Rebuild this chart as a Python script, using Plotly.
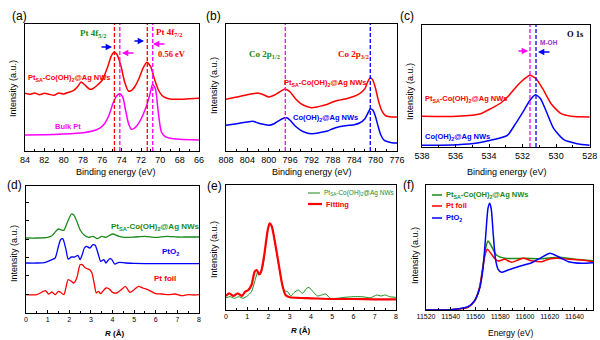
import plotly.graph_objects as go

W, H = 600, 340
RED, MAG, BLUE, GREEN, PURPLE = "#ff0000", "#ff00ff", "#0000ff", "#1a8a1a", "#9933cc"
SANS = "Arial, 'Liberation Sans', sans-serif"
SERIF = "'Times New Roman', 'Liberation Serif', serif"

SA = "Pt<sub>SA</sub>-Co(OH)<sub>2</sub>@Ag NWs"
COOH = "Co(OH)<sub>2</sub>@Ag NWs"

# ---- (a) Pt 4f XPS ----
a_e_sa = [84, 83.5, 83, 82.5, 82, 81.5, 81, 80.5, 80, 79.5, 79, 78.5, 78.2, 77.8, 77.3, 77, 76.5, 76,
          75.5, 75.1, 74.8, 74.5, 74.1, 73.7, 73.3, 73, 72.6, 72.2, 71.8, 71.4, 71.0, 70.6, 70.2, 69.8,
          69.4, 69, 68, 67, 66]
a_i_sa = [57.7, 56.7, 58, 56.3, 57.7, 56.7, 55.7, 58, 57, 58.7, 60.3, 65, 69, 66, 61.7, 62.3, 66, 71,
          82.7, 94.3, 98.7, 96.7, 86, 69.3, 60, 60.3, 65, 72.7, 82.7, 88.7, 84.3, 71.7, 61, 55.3,
          53, 52, 51.7, 52.3, 52.7]
a_e_bulk = [84, 82, 80, 78, 77, 76.3, 75.8, 75.3, 74.9, 74.5, 74.2, 73.9, 73.6, 73.3, 73.0, 72.6, 72.2,
            71.8, 71.4, 71.1, 70.8, 70.5, 70.2, 69.9, 69.5, 69, 68, 66]
a_i_bulk = [16, 16.3, 17, 18.3, 20, 22.7, 27, 36, 47.7, 55.3, 57.3, 54.3, 41, 27.7, 21.7, 23.3, 28.3,
            36, 46, 56, 66.7, 61.7, 37.7, 19.3, 14.3, 12.7, 11.7, 11]
a_lines_sa = [74.75, 71.35]
a_lines_bulk = [74.19, 70.79]

# ---- (b) Co 2p XPS ----
b_e = [808, 806, 804, 803, 802, 801, 800, 799, 798, 797, 796.5, 796, 795, 794, 793, 792, 791, 790, 789,
       788, 787, 786, 785, 784, 783, 782, 781.5, 781, 780.5, 780, 779.5, 779, 778.5, 778, 777, 776]
b_i_sa = [51.7, 54, 56.3, 57.2, 58, 56.3, 54, 55.7, 59, 62, 61, 59, 52.3, 47.3, 44.7, 43.3, 44, 45.3,
          46.7, 49, 50.7, 51.7, 53, 54.7, 57.3, 62.3, 69, 73.3, 70.7, 62.3, 50.7, 42.3, 37.3, 35, 34, 34]
b_i_co = [25.7, 27.3, 29, 29.7, 28, 26.7, 25.7, 27.3, 30.7, 33.3, 33, 30.7, 24.7, 20.7, 18.3, 17.3,
          17.7, 19, 20, 22.3, 24, 25, 25.7, 26.3, 28, 32.3, 37.3, 42.3, 40.7, 34, 24, 15.7, 11.3, 9.7,
          8.3, 8]
b_lines = [796.9, 781.0]

# ---- (c) O 1s XPS ----
c_e_sa = [538, 535.9, 534.5, 533.9, 533.3, 532.8, 532.3, 531.8, 531.56, 531.2, 530.8, 530.3, 529.7,
          529.1, 528]
c_i_sa = [30.7, 30.7, 33.3, 38.3, 44, 51.7, 61.7, 69.3, 71.7, 68.3, 58.3, 43.3, 33.3, 30.7, 30]
c_e_co = [538, 535.88, 534.69, 533.9, 532.91, 532.42, 531.92, 531.56, 531.23, 530.93, 530.53, 530.14,
          529.54, 528.75, 528]
c_i_co = [1.7, 2.3, 4, 6.7, 11.7, 23.3, 36.7, 46.7, 52.3, 48.3, 33.3, 18.3, 7.3, 3.3, 1.7]
c_lines = [531.56, 531.2]

# ---- (d) FT-EXAFS ----
d_r_sa = [0, 0.5, 1.0, 1.2, 1.4, 1.5, 1.6, 1.75, 1.9, 2.1, 2.2, 2.35, 2.5, 2.7, 2.9, 3.1, 3.3, 3.5, 3.7,
          4.0, 4.3, 4.6, 5, 5.5, 6, 6.5, 7, 7.5, 8]
d_i_sa = [75, 75, 75.7, 77.3, 82.3, 84, 83.3, 82.7, 90, 99, 98.3, 91.7, 83.3, 77.7, 75.7, 76.7, 74.3,
          76.7, 75.7, 79, 76.7, 75.7, 76, 76.7, 75.7, 76.7, 76, 76, 76]
d_r_pto2 = [0, 0.5, 0.9, 1.2, 1.35, 1.5, 1.6, 1.7, 1.85, 1.95, 2.1, 2.25, 2.4, 2.5, 2.6, 2.7, 2.8, 2.95,
            3.1, 3.2, 3.35, 3.45, 3.6, 3.7, 3.85, 3.95, 4.1, 4.3, 4.6, 5, 6, 7, 8]
d_i_pto2 = [50, 50, 50.7, 53.3, 55, 66.7, 73.3, 74.3, 63.3, 54, 56, 56, 57.7, 53.3, 58.3, 65, 66.7, 65,
            68.3, 67.7, 58.3, 51.7, 53.3, 50, 54, 54, 49, 50.7, 50, 49.7, 49.3, 49.3, 49.3]
d_r_foil = [0, 0.5, 0.8, 0.9, 1.05, 1.2, 1.35, 1.5, 1.6, 1.75, 1.95, 2.1, 2.2, 2.35, 2.5, 2.6, 2.75,
            2.95, 3.05, 3.15, 3.25, 3.35, 3.45, 3.55, 3.7, 3.85, 4.0, 4.2, 4.4, 4.6, 4.8, 5.0, 5.2,
            5.4, 5.7, 6.0, 6.3, 6.6, 6.9, 7.2, 7.5, 7.8, 8]
d_i_foil = [18.3, 18.3, 21.7, 22.3, 19, 21, 18.3, 21.7, 20.7, 18.3, 33.3, 31.7, 30, 35, 48.3, 48.3, 45,
            43.3, 40, 30, 20, 21.7, 19.3, 21.7, 25, 24, 20.7, 20, 23.3, 26.7, 20.7, 23.3, 26.7, 25,
            22.7, 19.3, 19, 18.3, 19, 17.3, 18.3, 18, 18.3]

# ---- (e) EXAFS fit ----
e_r_exp = [0, 0.2, 0.4, 0.6, 0.8, 1.0, 1.2, 1.35, 1.5, 1.6, 1.75, 1.9, 2.05, 2.2, 2.4, 2.6, 2.75, 2.9,
           3.05, 3.2, 3.4, 3.6, 3.8, 3.9, 4.1, 4.3, 4.5, 4.7, 4.9, 5.2, 5.6, 6.0, 6.4, 6.8, 7.1, 7.3,
           7.5, 7.7, 8]
e_i_exp = [12.3, 13.3, 11.7, 13.3, 11.7, 14, 18.3, 28.3, 38.3, 35, 45, 70, 86.7, 80, 55, 30, 19.3,
           18.3, 14, 17.3, 20, 16.7, 21.7, 22.7, 18.3, 14, 15, 16, 11.7, 11.7, 12.7, 13.3, 13.3, 12.3,
           15, 14, 15, 13.3, 12.7]
e_r_fit = [0, 0.15, 0.35, 0.55, 0.75, 0.9, 1.05, 1.2, 1.35, 1.45, 1.55, 1.65, 1.8, 1.95, 2.05, 2.15,
           2.3, 2.5, 2.65, 2.8, 3.0, 3.5, 4, 5, 6, 7, 8]
e_i_fit = [14, 16.7, 14, 16.7, 14, 18.3, 20, 25, 38.3, 40, 35.7, 38.3, 55, 78.3, 86.7, 84, 68.3, 43.3,
           25, 15, 12.7, 12, 11.7, 11, 11, 10.7, 10.7]

# ---- (f) XANES ----
f_e_sa = [11520, 11540, 11553.9, 11559.3, 11563.4, 11566.1, 11568.2, 11570.1, 11572.8, 11576.9,
          11583.7, 11599.9, 11613.5, 11627, 11640.6, 11655]
f_i_sa = [0, 0.3, 2.7, 9.3, 23.3, 45, 61.7, 69, 64, 55, 51.7, 51.7, 51.3, 52.7, 50.7, 49.3]
f_e_foil = [11520, 11540, 11553.9, 11559.3, 11563.4, 11566.1, 11567.4, 11569.6, 11572.8, 11576.1,
            11578.3, 11583.7, 11589.1, 11594.5, 11598.6, 11605.4, 11613.5, 11620.3, 11627, 11635.2,
            11646, 11655]
f_i_foil = [0, 0.3, 2.7, 9, 22.7, 43.3, 53.3, 60.7, 56, 50.7, 49, 50.7, 47.7, 50, 51.7, 49.3, 48.3,
            51.3, 51.7, 50.7, 50, 48.3]
f_e_pto2 = [11520, 11540, 11553.9, 11559.3, 11563.4, 11566.1, 11568.2, 11570.1, 11571.5, 11572.8,
            11574.2, 11576.1, 11578.3, 11581, 11586.4, 11594.5, 11605.4, 11613.5, 11620.3, 11627,
            11635.2, 11646, 11655]
f_i_pto2 = [0, 0.3, 3.3, 9.3, 21.7, 41.7, 73.3, 101.7, 106.7, 100.7, 78.3, 51.7, 40.7, 37.7, 40, 43.3,
            47.3, 52.7, 56.7, 53.3, 48.3, 46.7, 47.3]

# panel boxes in pixels: left, top, right, bottom
BOX = {
    1: (25, 24, 199, 151),
    2: (226, 24, 397, 151),
    3: (422, 25, 590, 147),
    4: (26, 186, 199, 313),
    5: (226, 185, 396, 310),
    6: (426, 185, 593, 310),
}
XR = {1: [84, 66], 2: [808, 776], 3: [538, 527.98], 4: [0, 8.001], 5: [0, 8.001], 6: [11520, 11655]}
YR = {1: [0, 127], 2: [0, 127], 3: [0, 122], 4: [0, 127], 5: [0, 125], 6: [0, 125]}
XT = {1: (2, 1, 9), 2: (4, 2, 9), 3: (2, 1, 9), 4: (1, 0.5, 7), 5: (1, 0.5, 7), 6: (20, 10, 7)}

fig = go.Figure()


def add(k, x, y, color, width=1.5):
    fig.add_trace(go.Scatter(
        x=x, y=y, mode="lines", line=dict(color=color, width=width, shape="spline", smoothing=0.6),
        xaxis="x" if k == 1 else f"x{k}", yaxis="y" if k == 1 else f"y{k}",
        showlegend=False, hoverinfo="skip"))


add(1, a_e_sa, a_i_sa, RED)
add(1, a_e_bulk, a_i_bulk, MAG)
add(2, b_e, b_i_sa, RED)
add(2, b_e, b_i_co, BLUE)
add(3, c_e_sa, c_i_sa, RED)
add(3, c_e_co, c_i_co, BLUE)
add(4, d_r_sa, d_i_sa, GREEN, 1.3)
add(4, d_r_pto2, d_i_pto2, BLUE, 1.3)
add(4, d_r_foil, d_i_foil, RED, 1.3)
add(5, e_r_exp, e_i_exp, GREEN, 1.0)
add(5, e_r_fit, e_i_fit, RED, 2.2)
add(6, f_e_sa, f_i_sa, GREEN, 1.5)
add(6, f_e_foil, f_i_foil, RED, 1.5)
add(6, f_e_pto2, f_i_pto2, BLUE, 1.5)

layout = {}
for k, (l, t, r, b) in BOX.items():
    sx = "" if k == 1 else str(k)
    dt, mdt, fs = XT[k]
    layout[f"xaxis{sx}"] = dict(
        domain=[l / W, r / W], range=XR[k], anchor=f"y{sx}", showgrid=False, zeroline=False,
        showline=True, mirror=True, linecolor="black", linewidth=1,
        ticks="inside", ticklen=3, tickwidth=1, tickcolor="black", dtick=dt, tick0=0,
        tickformat="d" if k == 6 else None, ticklabeloverflow="allow",
        minor=dict(ticks="inside", ticklen=2, dtick=mdt, tick0=0, tickcolor="black"),
        tickfont=dict(family=SANS, size=fs, color="black"), automargin=False)
    layout[f"yaxis{sx}"] = dict(
        domain=[1 - b / H, 1 - t / H], range=YR[k], anchor=f"x{sx}", showgrid=False, zeroline=False,
        showline=True, mirror=True, linecolor="black", linewidth=1, showticklabels=False,
        ticks="", automargin=False)
layout["yaxis4"].update(ticks="inside", ticklen=3, tick0=19, dtick=18.3, tickcolor="black")

shapes = []


def vline(k, x, color):
    sx = "" if k == 1 else str(k)
    shapes.append(dict(type="line", xref=f"x{sx}", yref=f"y{sx} domain", x0=x, x1=x, y0=0, y1=1,
                       line=dict(color=color, width=1.3, dash="4px,2px")))


for v in a_lines_sa:
    vline(1, v, RED)
for v in a_lines_bulk:
    vline(1, v, MAG)
vline(2, b_lines[0], MAG)
vline(2, b_lines[1], BLUE)
vline(3, c_lines[0], MAG)
vline(3, c_lines[1], BLUE)

ann = []


def txt(px, py, text, color="black", size=8, family=SANS, anchor="center", angle=0):
    ann.append(dict(xref="paper", yref="paper", x=px / W, y=1 - py / H, text=text, showarrow=False,
                    xanchor=anchor, yanchor="middle", textangle=angle,
                    font=dict(family=family, size=size, color=color)))


def arrow(x0, x1, py, color):
    ann.append(dict(xref="paper", yref="paper", x=x1 / W, y=1 - py / H, ax=x0 - x1, ay=0, text="",
                    showarrow=True, arrowhead=2, arrowsize=0.9, arrowwidth=1.4, arrowcolor=color))


def leg(x0, x1, py, color, width, label, size, bold=True):
    shapes.append(dict(type="line", xref="paper", yref="paper", x0=x0 / W, x1=x1 / W,
                       y0=1 - py / H, y1=1 - py / H, line=dict(color=color, width=width)))
    txt(x1 + 2, py, f"<b>{label}</b>" if bold else label, color, size, anchor="left")


# panel letters
for px, py, s in [(19, 16, "(a)"), (213, 16, "(b)"), (407, 16, "(c)"),
                  (14, 185, "(d)"), (214, 186, "(e)"), (408, 185, "(f)")]:
    txt(px, py, s, "black", 12)

# axis titles
for px, py in [(13, 89), (214, 86), (410, 92), (14, 254), (214, 250), (415, 256)]:
    txt(px, py, "Intensity (a.u.)", "black", 9, angle=-90)
for px in (116, 312, 507):
    txt(px, 172, "Binding energy (eV)", "black", 9)
txt(114, 333, "<b><i>R</i> (Å)</b>", "black", 8)
txt(300, 330, "<b><i>R</i> (Å)</b>", "black", 8)
txt(511, 333, "Energy (eV)", "black", 8.5)

# (a) labels
txt(93, 34, "<b>Pt 4f<sub>5/2</sub></b>", GREEN, 9, SERIF)
txt(169, 32, "<b>Pt 4f<sub>7/2</sub></b>", RED, 9, SERIF)
txt(172, 54, "<b>0.56 eV</b>", RED, 8.5, SERIF)
txt(26, 78, f"<b>{SA}</b>", RED, 7.5, anchor="left")
txt(68, 126, "<b>Bulk Pt</b>", MAG, 7.5)
arrow(100, 112, 47, BLUE)
arrow(135, 122, 53, MAG)
arrow(133, 144, 41, BLUE)
arrow(166, 153, 44, MAG)

# (b) labels
txt(264, 55, "<b>Co 2p<sub>1/2</sub></b>", GREEN, 9, SERIF)
txt(353, 55, "<b>Co 2p<sub>3/2</sub></b>", RED, 9, SERIF)
txt(325, 83, f"<b>{SA}</b>", RED, 7.5)
txt(325, 118, f"<b>{COOH}</b>", BLUE, 7.5)

# (c) labels
txt(575, 34, "<b>O 1s</b>", "black", 8.5, SERIF)
txt(549, 42, "<b>M-OH</b>", PURPLE, 6.5)
arrow(517, 528, 51, MAG)
arrow(551, 538, 52, BLUE)
txt(423, 99, f"<b>{SA}</b>", RED, 7.5, anchor="left")
txt(423, 137, f"<b>{COOH}</b>", BLUE, 7.5, anchor="left")

# (d) labels
txt(155, 227, f"<b>{SA}</b>", GREEN, 8)
txt(170, 252, "<b>PtO<sub>2</sub></b>", BLUE, 8)
txt(165, 278, "<b>Pt foil</b>", RED, 8)

# (e) legend
leg(308, 320, 193, GREEN, 1, SA, 6.5, bold=False)
leg(308, 322, 204, RED, 2.2, "Fitting", 7.5)

# (f) legend
leg(432, 442, 195, GREEN, 1.5, SA, 7.5)
leg(432, 442, 206, RED, 1.5, "Pt foil", 7.5)
leg(432, 442, 218, BLUE, 1.5, "PtO<sub>2</sub>", 7.5)

fig.update_layout(
    width=W, height=H, margin=dict(l=0, r=0, t=0, b=0),
    paper_bgcolor="white", plot_bgcolor="white",
    shapes=shapes, annotations=ann, **layout)

fig.write_html("out.html")
